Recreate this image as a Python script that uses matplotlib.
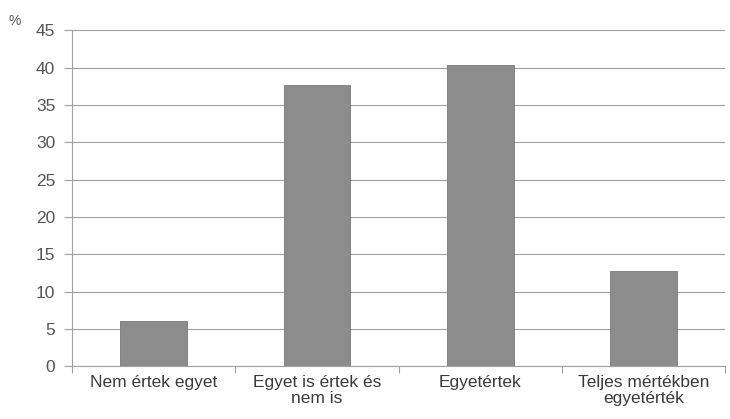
import numpy as np
import matplotlib
matplotlib.use("Agg")
import matplotlib.pyplot as plt

categories = ["Nem értek egyet", "Egyet is értek és\nnem is", "Egyetértek", "Teljes mértékben\negyetérték"]
values = [6.1, 37.6, 40.3, 12.7]
yticks = [0, 5, 10, 15, 20, 25, 30, 35, 40, 45]

plt.rcParams['font.family'] = ['Liberation Sans', 'DejaVu Sans']

fig = plt.figure(figsize=(7.3, 4.19), dpi=100)
ax = fig.add_axes([0.0986, 0.126, 0.895, 0.802])

x = np.arange(len(categories))
ax.bar(x, values, width=0.41, color='#8c8c8c', edgecolor='#7a7a7a', linewidth=0.6, zorder=3)

ax.set_xlim(-0.5, len(categories) - 0.5)
ax.set_ylim(0, 45)
ax.set_yticks(yticks)
ax.set_yticklabels([str(v) for v in yticks], fontsize=12.5, color='#555555')
ax.yaxis.grid(True, color='#a0a0a0', linewidth=0.8, zorder=0)

# category labels between boundary ticks
ax.set_xticks(np.arange(-0.5, len(categories), 1.0))
ax.set_xticklabels([])
ax.set_xticks(x, minor=True)
ax.set_xticklabels(categories, minor=True, fontsize=12.5, color='#3a3a3a', linespacing=1.1)
ax.tick_params(axis='x', which='minor', length=0, pad=6)
ax.tick_params(axis='x', which='major', length=5, color='#a0a0a0')
ax.tick_params(axis='y', length=6, color='#a0a0a0', pad=6)

for s in ['top', 'right']:
    ax.spines[s].set_visible(False)
ax.spines['left'].set_color('#a0a0a0')
ax.spines['bottom'].set_color('#a0a0a0')

fig.text(0.011, 0.94, "%", fontsize=10, color='#555555')

fig.savefig("out.png", dpi=100)
